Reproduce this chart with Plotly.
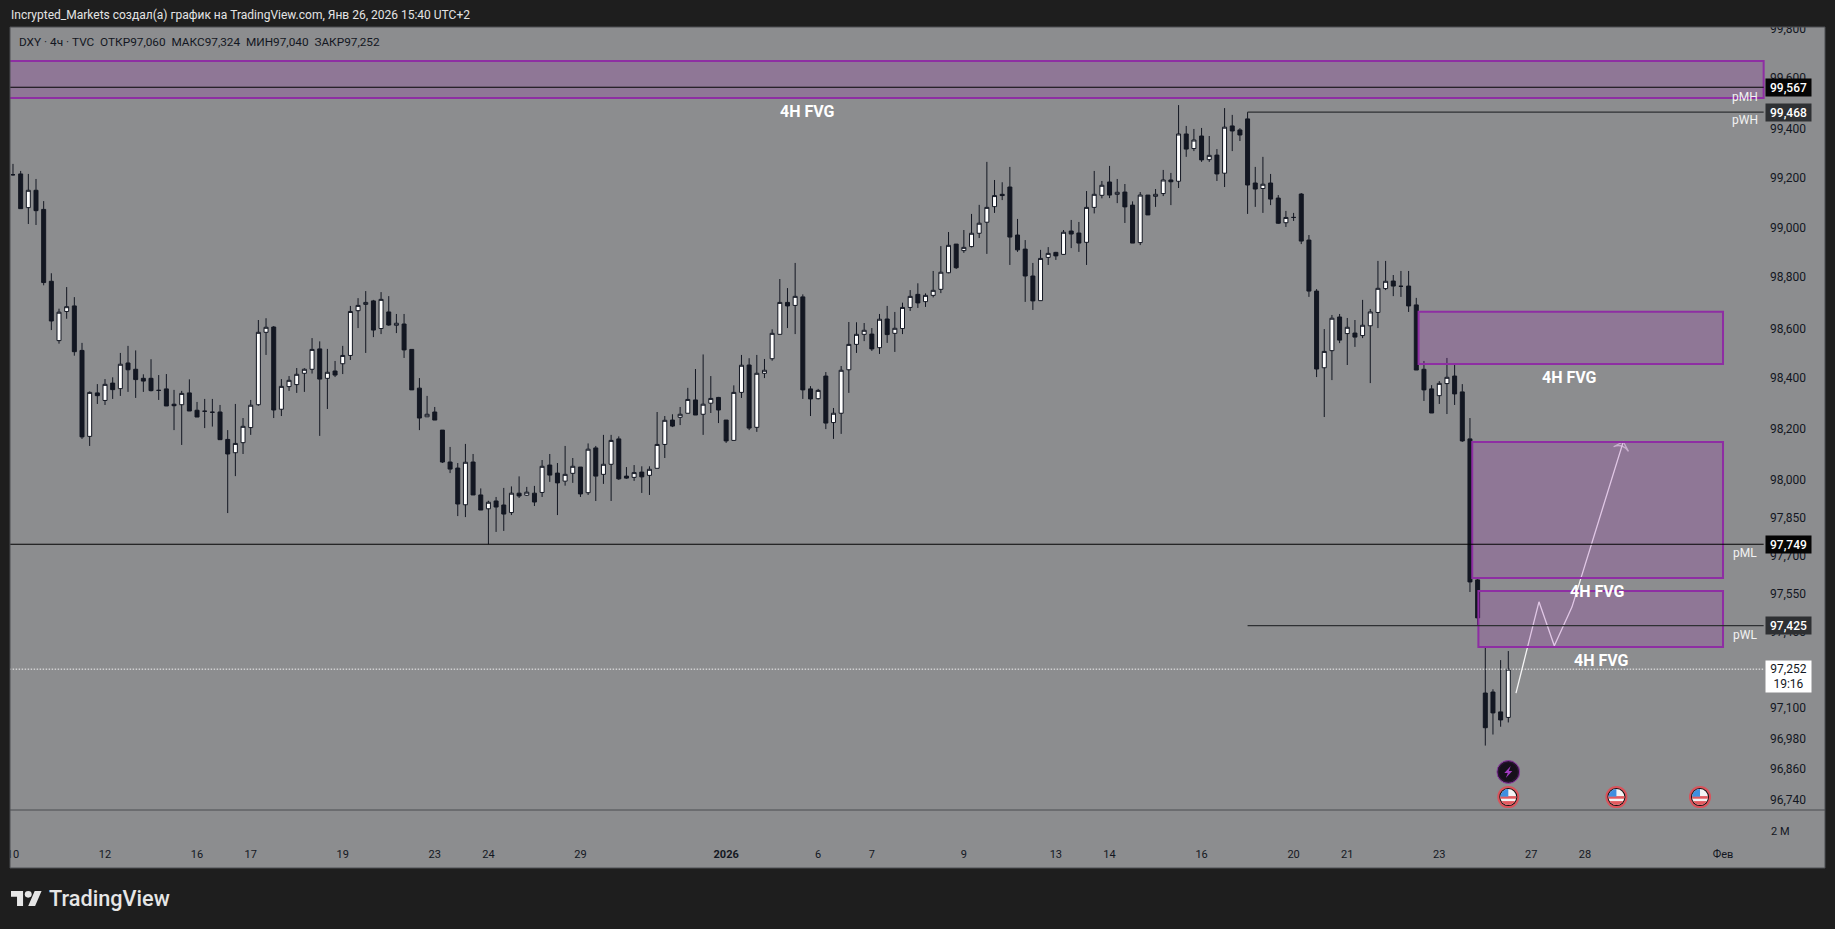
import base64
import plotly.graph_objects as go

opens = [99219,99222,99088,99157,99081,98795,98559,98675,98697,98520,98178,98351,98321,98390,98368,98470,98445,98409,98409,98361,
98367,98306,98304,98351,98282,98278,98274,98275,98166,98113,98153,98213,98304,98592,98613,98286,98376,98384,98429,98445,
98526,98409,98438,98467,98500,98678,98703,98717,98607,98673,98620,98625,98524,98370,98256,98275,98203,98076,98052,97906,
98076,97945,97890,97921,97905,97875,97952,97944,97952,97955,98064,98032,98000,98031,98056,97954,98132,98027,98067,98168,
98020,98015,98036,98023,98051,98146,98243,98254,98270,98323,98266,98310,98333,98243,98162,98353,98462,98214,98429,98487,
98584,98711,98699,98733,98367,98328,98418,98233,98270,98443,98544,98584,98585,98531,98645,98588,98607,98691,98743,98714,
98739,98763,98829,98943,98917,98933,98986,99030,99092,99141,99170,98979,98923,98816,98718,98890,98910,98902,98995,98987,
98950,99089,99137,99190,99141,99150,99098,98949,99138,99133,99144,99198,99193,99381,99323,99373,99279,99297,99225,99413,
99397,99441,99186,99164,99186,99126,99028,99049,99142,98959,98756,98451,98519,98653,98587,98589,98579,98618,98671,98766,
98796,98775,98776,98701,98445,98367,98340,98388,98418,98355,98168,97607,97157,97161,97082,97060]
highs = [99262,99234,99222,99202,99114,98827,98686,98772,98732,98550,98357,98386,98406,98413,98510,98538,98520,98425,98485,98422,
98426,98363,98359,98405,98315,98327,98327,98303,98203,98307,98251,98323,98641,98648,98617,98406,98418,98450,98449,98569,
98556,98526,98478,98538,98697,98728,98756,98721,98752,98736,98665,98665,98524,98410,98339,98295,98203,98136,98072,98148,
98108,97971,97922,97937,97973,97979,98019,97977,97981,98084,98108,98072,98140,98092,98056,98150,98140,98184,98184,98178,
98056,98064,98059,98059,98275,98259,98266,98295,98371,98446,98504,98418,98335,98243,98381,98502,98489,98502,98486,98604,
98804,98768,98868,98743,98378,98367,98434,98291,98458,98633,98632,98629,98609,98665,98697,98673,98710,98760,98787,98747,
98836,98935,98991,98943,98999,99063,99099,99270,99198,99189,99250,99043,98959,98868,98920,98931,98912,98999,99039,99031,
99154,99234,99194,99254,99202,99182,99113,99150,99138,99162,99238,99226,99496,99413,99401,99405,99373,99321,99484,99457,
99404,99468,99250,99290,99222,99138,99075,99067,99146,98979,98764,98605,98661,98665,98649,98641,98721,98685,98876,98876,
98820,98836,98836,98729,98478,98382,98398,98490,98466,98386,98251,97611,97339,97172,97288,97324]
lows = [99215,99084,99023,99019,98779,98601,98547,98646,98499,98168,98140,98307,98303,98327,98339,98355,98331,98355,98357,98323,
98299,98203,98144,98279,98255,98211,98217,98165,97873,98020,98108,98184,98300,98502,98251,98259,98359,98351,98355,98428,
98180,98287,98414,98426,98482,98609,98510,98573,98585,98618,98589,98490,98363,98203,98255,98243,98072,98032,97861,97857,
97945,97885,97749,97798,97802,97865,97933,97941,97901,97937,97997,97865,97982,97993,97937,97945,97921,97989,97921,98005,
98009,98001,97953,97945,98051,98092,98215,98223,98270,98263,98184,98271,98231,98152,98162,98331,98203,98196,98410,98479,
98584,98609,98585,98327,98259,98325,98207,98168,98188,98351,98510,98557,98518,98506,98550,98514,98585,98677,98689,98693,
98731,98748,98827,98844,98908,98930,98967,98904,99067,99118,98860,98912,98713,98681,98718,98860,98880,98900,98927,98912,
98860,99065,99125,99126,99106,99027,98947,98939,99059,99091,99134,99098,99166,99290,99313,99270,99270,99194,99170,99313,
99353,99063,99091,99067,99098,99023,99011,99035,98943,98733,98414,98255,98402,98549,98462,98534,98569,98390,98609,98760,
98736,98733,98673,98442,98319,98271,98307,98267,98303,98156,97559,97425,96948,96992,97023,97040]
closes = [99219,99084,99157,99076,98790,98637,98672,98694,98515,98176,98353,98340,98385,98364,98465,98443,98404,98398,98360,98361,
98299,98300,98349,98279,98255,98278,98274,98165,98108,98150,98218,98302,98592,98612,98283,98377,98401,98425,98445,98524,
98406,98433,98422,98500,98675,98699,98711,98601,98723,98621,98628,98522,98363,98251,98266,98243,98076,98048,97909,98075,
97945,97885,97916,97897,97869,97952,97941,97956,97917,98059,98024,97993,98027,98059,97949,98127,98020,98067,98162,98009,
98012,98034,98017,98047,98146,98242,98219,98266,98325,98263,98306,98329,98283,98160,98353,98461,98211,98429,98441,98588,
98711,98697,98735,98363,98327,98361,98231,98270,98441,98544,98584,98600,98526,98644,98583,98608,98691,98735,98709,98739,
98759,98831,98938,98849,98930,98986,99026,99089,99136,99136,98971,98920,98816,98717,98886,98906,98896,98990,98983,98947,
99089,99141,99177,99138,99149,99091,98947,99138,99059,99141,99198,99191,99381,99321,99357,99278,99296,99222,99408,99393,
99377,99178,99162,99181,99122,99026,99049,99049,98955,98756,98446,98516,98648,98561,98612,98573,98620,98673,98767,98795,
98776,98775,98697,98442,98363,98271,98389,98413,98347,98160,97599,97456,97019,97078,97050,97252]
bar_index = list(range(len(opens)))

price_ticks = [99800,99600,99400,99200,99000,98800,98600,98400,98200,98000,97850,97700,97550,97400,97250,97100,96980,96860,96740]
price_tick_pos = [99799,99604,99401,99207,99009,98812,98606,98410,98209,98007,97855,97702,97552,97400,97249,97100,96974,96856,96734]
price_labels = [f"{v:,}" for v in price_ticks]
time_ticks = [0,12,24,31,43,55,62,74,93,105,112,124,136,143,155,167,174,186,198,205,223]
time_labels = ["10","12","16","17","19","23","24","29","<b>2026</b>","6","7","9","13","14","16","20","21","23","27","28","Фев"]

fvg_left = [-2, 183.3, 190.3, 191.1]
fvg_right = [228.3, 223, 223, 223]
fvg_top = [99671, 98674, 98156, 97563]
fvg_bottom = [99524, 98466, 97615, 97340]

level_names = ["pMH", "pWH", "pML", "pWL"]
level_prices = [99567, 99468, 97749, 97425]
level_start = [-2, 161, -2, 161]
level_colors = ["#050505", "#2e3033", "#050505", "#2e3033"]
level_name_y = [99528, 99437, 97714, 97388]
last_price = 97252
last_countdown = "19:16"

path_x = [196.0, 199.0, 201.0, 203.3, 210.0]
path_y = [97157, 97520, 97345, 97499, 98157]

fvg_text_x = [103.6, 203, 206.6, 207.2]
fvg_text_y = [99472, 98414, 97560, 97288]

flag_x = [195, 209.1, 220]
flag_y = 96743
bolt_x = 195
bolt_y = 96843

W, H = 1835, 929
L, R, T, B = 10, 10, 27, 61
PAGE = "#1e1e1e"
PANEL = "#8c8d8f"
INK = "#131722"
X0, X1 = -0.39, 236.3
Y1, Y0 = 99806.6, 96461
PW, PH = W - L - R, H - T - B


def svg_uri(body, vb):
    s = f'<svg xmlns="http://www.w3.org/2000/svg" viewBox="{vb}">{body}</svg>'
    return "data:image/svg+xml;base64," + base64.b64encode(s.encode()).decode()


FLAG = svg_uri(
    '<defs><clipPath id="c"><circle cx="12" cy="12" r="8"/></clipPath></defs>'
    '<circle cx="12" cy="12" r="11" fill="#d9535b"/><circle cx="12" cy="12" r="9" fill="#111"/>'
    '<g clip-path="url(#c)"><rect width="24" height="24" fill="#f4f4f4"/>'
    '<rect y="11" width="24" height="2.6" fill="#e25a5f"/><rect y="16" width="24" height="5" fill="#e25a5f"/>'
    '<rect x="3" y="3" width="9" height="8.5" fill="#3f8fe0"/></g>', "0 0 24 24")
BOLT = svg_uri(
    '<circle cx="12" cy="12" r="11.4" fill="#2a1533" stroke="#8e3aa5" stroke-width="1"/>'
    '<circle cx="12" cy="12" r="9.4" fill="#16101b"/>'
    '<path d="M14.5 6 L8 13 L11.5 13 L9.5 18 L16 11 L12.5 11 Z" fill="#a03bc0"/>', "0 0 24 24")
LOGO = svg_uri(
    '<path d="M14 22H7V11H0V4h14v18zM28 22h-8l7.5-18h8L28 22z" fill="#e6e6e6"/>'
    '<circle cx="20" cy="8" r="4" fill="#e6e6e6"/>', "0 4 36 18")

fig = go.Figure()
fig.add_trace(go.Candlestick(
    x=bar_index, open=opens, high=highs, low=lows, close=closes, whiskerwidth=0,
    increasing=dict(fillcolor="#ffffff", line=dict(color=INK, width=1)),
    decreasing=dict(fillcolor=INK, line=dict(color=INK, width=1)),
    hoverinfo="skip", showlegend=False))
fig.add_trace(go.Scatter(x=path_x, y=path_y, mode="lines", hoverinfo="skip", showlegend=False,
                         line=dict(color="#f4f4f4", width=1.3)))
fig.add_trace(go.Scatter(x=path_x[-2:], y=path_y[-2:], mode="markers", hoverinfo="skip", showlegend=False,
                         marker=dict(symbol="arrow-wide-open", size=[0, 11], angleref="previous",
                                     color="#f4f4f4", line=dict(color="#f4f4f4", width=1.3))))

shapes = []
for a, b, t, u in zip(fvg_left, fvg_right, fvg_top, fvg_bottom):
    shapes.append(dict(type="rect", xref="x", yref="y", x0=a, x1=b, y0=u, y1=t, layer="above",
                       fillcolor="rgba(156,39,176,0.22)", line=dict(color="#8e2ea3", width=2)))
for p, s, c in zip(level_prices, level_start, level_colors):
    shapes.append(dict(type="line", xref="x", yref="y", x0=s, x1=228.3, y0=p, y1=p, layer="above",
                       line=dict(color=c, width=1.2)))
shapes.append(dict(type="line", xref="x", yref="y", x0=-2, x1=228.3, y0=last_price, y1=last_price, layer="above",
                   line=dict(color="#f2f2f2", width=1, dash="1.5px,1.5px")))
# horizontal divider of the pane, the page strips that clip the axis text, and the pane border
shapes.append(dict(type="line", xref="paper", yref="paper", x0=0, x1=1, y0=58 / PH, y1=58 / PH, layer="above",
                   line=dict(color="#4a4c50", width=1)))
shapes.append(dict(type="rect", xref="paper", yref="paper", x0=-0.01, x1=0, y0=-0.1, y1=1.05, layer="above",
                   fillcolor=PAGE, line=dict(width=0)))
shapes.append(dict(type="rect", xref="paper", yref="paper", x0=-0.01, x1=1.01, y0=1, y1=1.035, layer="above",
                   fillcolor=PAGE, line=dict(width=0)))
shapes.append(dict(type="rect", xref="paper", yref="paper", x0=0, x1=1, y0=0, y1=1, layer="above",
                   fillcolor="rgba(0,0,0,0)", line=dict(color="#4d4f53", width=1)))

ann = []
LABEL_X = 231.6
for p, bg in zip(level_prices, level_colors):
    ann.append(dict(x=LABEL_X, y=p, xref="x", yref="y", text=f"{p:,}", showarrow=False, bgcolor=bg, width=43, height=15,
                    font=dict(family="Roboto", size=12, color="#ffffff", weight=500)))
for n, y in zip(level_names, level_name_y):
    ann.append(dict(x=225.9, y=y, xref="x", yref="y", text=n, showarrow=False,
                    font=dict(family="Roboto", size=12, color="#f2f2f2")))
ann.append(dict(x=LABEL_X, y=last_price, yshift=-7, xref="x", yref="y", text=f"{last_price:,}<br>{last_countdown}",
                showarrow=False, bgcolor="#ffffff", width=43, height=29, align="center",
                font=dict(family="Roboto", size=12, color=INK)))
for tx, ty in zip(fvg_text_x, fvg_text_y):
    ann.append(dict(x=tx, y=ty, xref="x", yref="y", text="<b>4H FVG</b>", showarrow=False,
                    font=dict(family="Roboto", size=16, color="#ffffff")))
ann.append(dict(x=(1780 - L) / PW, y=(868 - 831) / PH, xanchor="center", yanchor="middle", xref="paper", yref="paper",
                text="2 М", showarrow=False, font=dict(family="Roboto", size=11, color=INK)))
ann.append(dict(x=0, y=(868 - 42) / PH, xanchor="left", yanchor="middle", xshift=7, xref="paper", yref="paper", showarrow=False,
                text="DXY · 4ч · TVC  ОТКР97,060  МАКС97,324  МИН97,040  ЗАКР97,252",
                font=dict(family="Roboto", size=11.8, color=INK)))
ann.append(dict(x=0, y=(868 - 15) / PH, xanchor="left", yanchor="middle", xshift=-1, xref="paper", yref="paper", showarrow=False,
                text="Incrypted_Markets создал(а) график на TradingView.com, Янв 26, 2026 15:40 UTC+2",
                font=dict(family="Roboto", size=12, color="#e4e4e4")))
ann.append(dict(x=(47 - L) / PW, y=(868 - 899) / PH, xanchor="left", yanchor="middle", xref="paper", yref="paper", showarrow=False,
                text="TradingView", font=dict(family="Roboto", size=21.7, color="#e6e6e6", weight=500)))

images = [dict(source=FLAG, xref="x", yref="y", x=fx, y=flag_y, sizex=24 / 7.667, sizey=24 * 3.978, xanchor="center",
               yanchor="middle", sizing="contain", layer="above") for fx in flag_x]
images.append(dict(source=BOLT, xref="x", yref="y", x=bolt_x, y=bolt_y, sizex=24 / 7.667, sizey=24 * 3.978,
                   xanchor="center", yanchor="middle", sizing="contain", layer="above"))
images.append(dict(source=LOGO, xref="paper", yref="paper", x=(11 - L) / PW, y=(868 - 891) / PH,
                   sizex=31 / PW, sizey=15 / PH, xanchor="left", yanchor="top", sizing="stretch", layer="above"))

fig.update_layout(
    width=W, height=H, margin=dict(l=L, r=R, t=T, b=B, pad=0, autoexpand=False),
    paper_bgcolor=PAGE, plot_bgcolor=PANEL, boxgap=0.2, boxgroupgap=0.35, showlegend=False, dragmode=False,
    shapes=shapes, annotations=ann, images=images,
    xaxis=dict(range=[X0, X1], tickvals=time_ticks, ticktext=time_labels, showgrid=False, zeroline=False, showline=False,
               ticks="", rangeslider=dict(visible=False), ticklabelposition="inside", ticklabeloverflow="allow",
               tickfont=dict(family="Roboto", size=11, color=INK), ticklabelstandoff=5),
    yaxis=dict(range=[Y0, Y1], side="right", tickvals=price_tick_pos, ticktext=price_labels, showgrid=False, zeroline=False,
               showline=False, ticks="", ticklabelposition="inside", ticklabeloverflow="allow",
               tickfont=dict(family="Roboto", size=12, color=INK), ticklabelstandoff=16),
)
fig.write_html("out.html", config=dict(displayModeBar=False),
               post_script="document.body.style.margin='0';document.body.style.background='#1e1e1e';document.body.style.overflow='hidden';")
